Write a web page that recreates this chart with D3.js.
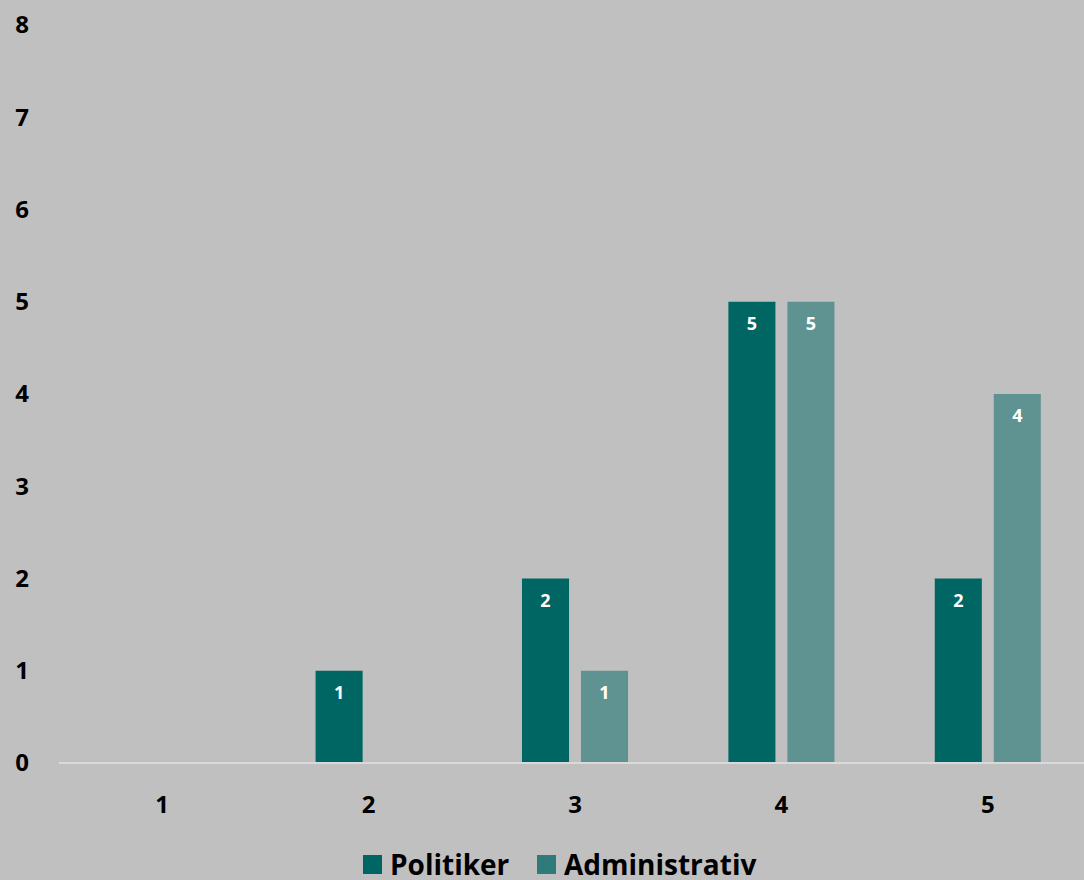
<!DOCTYPE html>
<meta charset="utf-8">
<style>
    body { margin: 0; background-color: #c0c0c0; }
    text { font-family: "Open Sans", "Noto Sans", sans-serif; font-weight: bold; }
</style>
<body>
<script src="https://d3js.org/d3.v7.min.js"></script>
<script>
    const categories = ["1", "2", "3", "4", "5"];
    const politiker = [0, 1, 2, 5, 2];
    const administrativ = [0, 0, 1, 5, 4];
    const seriesNames = ["Politiker", "Administrativ"];
    const yTicks = [0, 1, 2, 3, 4, 5, 6, 7, 8];

    var width = 1084,
        height = 880;

    var colors = ["#006664", "#5f9392"];
    var legendColors = ["#006664", "#2f7b79"];

    var svg = d3.select("body").append("svg")
        .attr("width", width)
        .attr("height", height);

    svg.append("rect")
        .attr("width", width)
        .attr("height", height)
        .attr("fill", "#c0c0c0");

    var x = d3.scaleBand()
        .domain(categories)
        .range([59, 1091]);

    var y = d3.scaleLinear()
        .domain([0, 8])
        .range([763, 25]);

    var barW = x.bandwidth() * 0.228;
    var off = 29.5;

    // y tick labels
    svg.append("g").selectAll("text")
        .data(yTicks)
        .enter().append("text")
        .attr("x", 22)
        .attr("y", d => y(d))
        .attr("dy", "0.35em")
        .attr("text-anchor", "middle")
        .attr("font-size", 24)
        .attr("fill", "#000")
        .text(d => d);

    // bars
    var rows = categories.map((c, i) => ({ cat: c, vals: [politiker[i], administrativ[i]] }));

    var g = svg.append("g");
    rows.forEach(function (r) {
        r.vals.forEach(function (v, j) {
            if (v <= 0) return;
            var cx = x(r.cat) + x.bandwidth() / 2 + (j === 0 ? -off : off);
            g.append("rect")
                .attr("x", cx - barW / 2)
                .attr("y", y(v))
                .attr("width", barW)
                .attr("height", y(0) - y(v))
                .attr("fill", colors[j]);
            g.append("text")
                .attr("x", cx)
                .attr("y", y(v) + 22)
                .attr("dy", "0.35em")
                .attr("text-anchor", "middle")
                .attr("font-size", 18)
                .attr("fill", "#fff")
                .text(v);
        });
    });

    // baseline
    svg.append("line")
        .attr("x1", 59)
        .attr("x2", width)
        .attr("y1", y(0))
        .attr("y2", y(0))
        .attr("stroke", "#d9d9d9")
        .attr("stroke-width", 2);

    // x labels
    svg.append("g").selectAll("text")
        .data(categories)
        .enter().append("text")
        .attr("x", d => x(d) + x.bandwidth() / 2)
        .attr("y", 805)
        .attr("dy", "0.35em")
        .attr("text-anchor", "middle")
        .attr("font-size", 24)
        .attr("fill", "#000")
        .text(d => d);

    // legend
    var legend = svg.append("g");
    var legX = [363, 537];
    seriesNames.forEach(function (name, i) {
        legend.append("rect")
            .attr("x", legX[i])
            .attr("y", 855)
            .attr("width", 19)
            .attr("height", 19)
            .attr("fill", legendColors[i]);
        legend.append("text")
            .attr("x", legX[i] + 27)
            .attr("y", 865)
            .attr("dy", "0.35em")
            .attr("font-size", 28)
            .attr("fill", "#000")
            .text(name);
    });
</script>
</body>
